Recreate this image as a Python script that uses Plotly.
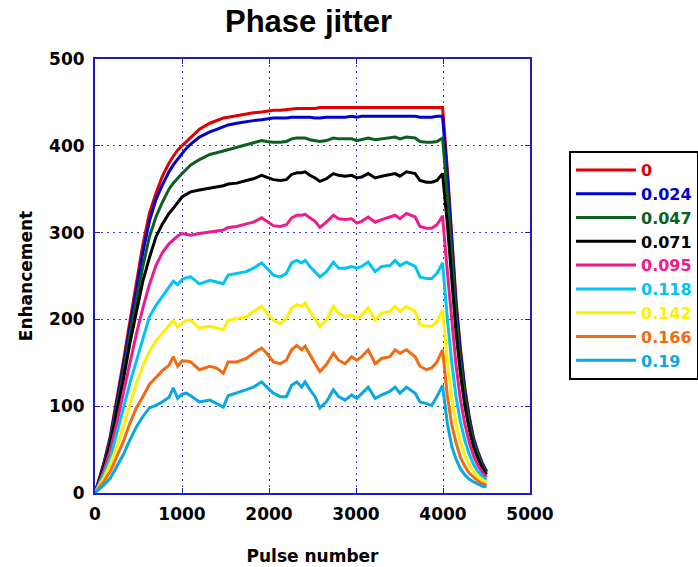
import plotly.graph_objects as go

pulse = [0, 100, 175, 250, 325, 400, 475, 550, 625, 700, 775, 850, 900, 950, 1000, 1050,
         1100, 1200, 1320, 1400, 1475, 1530, 1630, 1740, 1820, 1915,
         1975, 2050, 2130, 2200, 2260, 2320, 2375, 2415, 2470, 2530,
         2585, 2660, 2740, 2800, 2875, 2950, 3010, 3065, 3140, 3220,
         3295, 3390, 3450, 3505, 3580, 3680, 3735, 3810, 3870, 3930, 3995,
         4050, 4100, 4150, 4200, 4250, 4300, 4350, 4400, 4450, 4500]

jit_000 = [0, 34, 65, 107, 151, 197, 244, 286, 322, 345, 365, 380, 388, 395, 400, 405,
           410, 419, 426, 429, 432, 433, 435, 437, 438, 439,
           440, 441, 441, 442, 442, 443, 443, 443, 443, 443,
           444, 444, 444, 444, 444, 444, 444, 444, 444, 444,
           444, 444, 444, 444, 444, 444, 444, 444, 444, 444, 444,
           373, 297, 222, 167, 122, 89, 64, 48, 35, 25]

jit_024 = [0, 32, 63, 103, 146, 190, 236, 277, 313, 338, 355, 370, 378, 385, 391, 397,
           402, 410, 416, 419, 422, 424, 426, 428, 429, 430,
           431, 432, 432, 432, 433, 433, 433, 433, 433, 432,
           432, 433, 433, 433, 433, 434, 433, 434, 434, 434,
           434, 434, 434, 434, 434, 434, 433, 433, 433, 434, 434,
           365, 291, 217, 163, 119, 87, 62, 47, 34, 25]

jit_047 = [0, 30, 61, 98, 138, 182, 222, 261, 295, 318, 335, 350, 357, 363, 368, 373,
           378, 384, 390, 392, 394, 396, 398, 401, 403, 406,
           405, 404, 404, 405, 408, 409, 409, 409, 407, 406,
           405, 406, 409, 408, 408, 408, 406, 407, 409, 407,
           408, 409, 410, 408, 410, 409, 405, 404, 404, 405, 409,
           344, 274, 205, 153, 112, 82, 59, 45, 32, 23]

jit_071 = [0, 28, 56, 92, 130, 172, 210, 244, 271, 295, 310, 322, 328, 334, 341, 344,
           347, 349, 351, 352, 354, 356, 357, 360, 362, 366,
           364, 361, 360, 361, 367, 369, 369, 370, 366, 363,
           359, 362, 368, 366, 365, 366, 363, 364, 368, 363,
           365, 367, 368, 365, 370, 368, 360, 358, 358, 360, 368,
           310, 245, 185, 138, 101, 74, 53, 40, 29, 21]

jit_095 = [0, 25, 49, 80, 115, 149, 183, 213, 240, 262, 277, 287, 292, 296, 299, 298,
           297, 299, 301, 302, 303, 306, 307, 310, 312, 317,
           313, 308, 307, 309, 317, 320, 320, 321, 317, 313,
           306, 312, 320, 316, 315, 316, 311, 313, 318, 312,
           315, 318, 320, 316, 322, 318, 307, 305, 305, 309, 319,
           255, 198, 147, 108, 80, 59, 43, 32, 24, 18]

jit_118 = [0, 21, 40, 69, 96, 126, 152, 178, 203, 216, 226, 236, 244, 240, 246, 248,
           249, 241, 245, 243, 241, 251, 253, 255, 259, 265,
           259, 251, 249, 253, 265, 268, 265, 268, 261, 255,
           249, 255, 266, 259, 259, 261, 259, 261, 266, 255,
           261, 262, 268, 262, 266, 261, 249, 247, 247, 253, 265,
           201, 151, 111, 82, 61, 45, 33, 25, 19, 15]

jit_142 = [0, 17, 34, 53, 76, 101, 126, 146, 163, 175, 184, 192, 199, 191, 196, 199,
           199, 190, 192, 190, 188, 199, 201, 203, 209, 215,
           207, 199, 195, 201, 213, 217, 215, 219, 209, 201,
           192, 199, 215, 207, 203, 205, 201, 205, 213, 199,
           207, 209, 215, 209, 215, 209, 194, 192, 192, 197, 211,
           152, 110, 80, 59, 44, 33, 25, 19, 15, 12]

jit_166 = [0, 13, 25, 42, 59, 80, 98, 111, 125, 133, 141, 147, 157, 146, 152, 152,
           151, 142, 146, 144, 138, 151, 151, 155, 161, 167,
           161, 151, 149, 153, 165, 170, 165, 169, 159, 149,
           140, 148, 161, 153, 149, 157, 153, 157, 165, 149,
           155, 157, 165, 161, 165, 157, 146, 142, 144, 151, 165,
           112, 79, 58, 41, 31, 23, 18, 14, 11, 9]

jit_190 = [0, 9, 17, 30, 44, 61, 76, 88, 98, 101, 105, 110, 121, 109, 114, 115,
           112, 105, 107, 103, 99, 112, 115, 119, 122, 128,
           122, 115, 111, 111, 124, 128, 122, 128, 119, 111,
           98, 105, 119, 111, 107, 113, 109, 115, 122, 109,
           113, 117, 122, 115, 122, 115, 105, 103, 101, 111, 124,
           80, 54, 39, 28, 21, 16, 13, 10, 8, 7]

labels = ["0", "0.024", "0.047", "0.071", "0.095", "0.118", "0.142", "0.166", "0.19"]
series = [jit_000, jit_024, jit_047, jit_071, jit_095, jit_118, jit_142, jit_166, jit_190]
colors = ["#e00000", "#0000d0", "#0b6020", "#000000", "#ef1a8c",
          "#00c4f5", "#fff000", "#f26b12", "#0aa8e2"]

FONT = "DejaVu Sans"
AXC = "#1a1ac8"

fig = go.Figure()
for lab, vals, col in zip(labels, series, colors):
    fig.add_trace(go.Scatter(
        x=pulse, y=vals, mode="lines",
        line=dict(color=col, width=3),
        name=f"<span style='color:{col}'>{lab}</span>",
    ))

axis_common = dict(
    showgrid=True, gridcolor="#3a3ad8", griddash="2px,4px", gridwidth=1,
    showline=True, linecolor=AXC, linewidth=2, mirror="ticks",
    ticks="inside", ticklen=5, tickcolor=AXC, tickwidth=1,
    zeroline=False, automargin=False,
    tickfont=dict(family=FONT, size=17, color="black", weight="bold"),
)

fig.update_layout(
    width=698, height=567,
    margin=dict(l=95, r=168, t=59, b=74, autoexpand=False),
    paper_bgcolor="white", plot_bgcolor="white",
    title=dict(text="Phase jitter", x=0.442, xref="container", xanchor="center",
               y=0.962, yref="container", yanchor="middle",
               font=dict(family="Liberation Sans", size=31, color="black", weight="bold")),
    xaxis=dict(range=[0, 5000], dtick=1000, tick0=0, ticklabelstandoff=5,
               title=dict(text="Pulse number", standoff=27,
                          font=dict(family=FONT, size=17, color="black", weight="bold")),
               **axis_common),
    yaxis=dict(range=[0, 500], dtick=100, tick0=0, ticklabelstandoff=5,
               title=dict(text="Enhancement", standoff=12,
                          font=dict(family=FONT, size=17, color="black", weight="bold")),
               **axis_common),
    legend=dict(x=1.0897, y=0.788, xanchor="left", yanchor="top",
                bordercolor="black", borderwidth=2, bgcolor="white",
                font=dict(family=FONT, size=16, weight="bold"),
                itemwidth=60, tracegroupgap=0),
    showlegend=True,
)

fig.write_html("out.html", config={"displayModeBar": False},
               post_script="document.body.style.margin='0';")
